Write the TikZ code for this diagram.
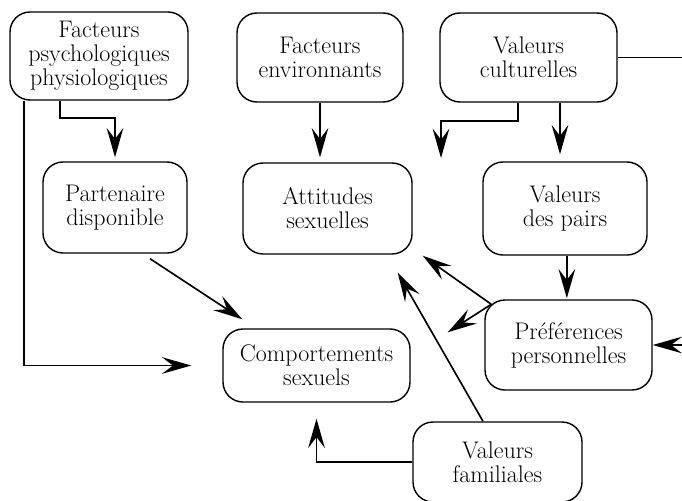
\documentclass[tikz,border=0pt]{standalone}
\usetikzlibrary{arrows.meta}
\tikzset{
    boite/.style={draw, rounded corners=0.6cm, align=center, line width=1.2pt, inner sep=0pt, font=\fontsize{20.5}{20.5}\selectfont},
    fleche/.style={-{Stealth[length=0.88cm,width=0.5cm,inset=0.33cm]}, line width=1.4pt},
}
\begin{document}
\begin{tikzpicture}[x=0.03cm, y=-0.03cm]
    \useasboundingbox (0,0) rectangle (682,500);
    \coordinate (Ppsy) at (99,56);
    \coordinate (Penv) at (320,57.5);
    \coordinate (Pcult) at (528.5,57.5);
    \coordinate (Ppart) at (115,207.5);
    \coordinate (Patt) at (327.5,208.5);
    \coordinate (Ppairs) at (565,208.5);
    \coordinate (Ppref) at (568.5,345);
    \coordinate (Pcomp) at (316.5,365.5);
    \coordinate (Pfam) at (497.5,462);
    \node[boite, minimum width=5.34cm, minimum height=2.64cm] (psy) at (Ppsy) {Facteurs\\psychologiques\\physiologiques};
    \node[boite, minimum width=4.98cm, minimum height=2.67cm] (env) at (Penv) {Facteurs\\environnants};
    \node[boite, minimum width=5.31cm, minimum height=2.67cm] (cult) at (Pcult) {Valeurs\\culturelles};
    \node[boite, minimum width=4.32cm, minimum height=2.73cm] (part) at (Ppart) {Partenaire\\disponible};
    \node[boite, minimum width=5.07cm, minimum height=2.73cm] (att) at (Patt) {Attitudes\\sexuelles};
    \node[boite, minimum width=4.92cm, minimum height=2.79cm] (pairs) at (Ppairs) {Valeurs\\des pairs};
    \node[boite, minimum width=5.01cm, minimum height=2.7cm] (pref) at (Ppref) {Préférences\\personnelles};
    \node[boite, minimum width=5.61cm, minimum height=2.19cm] (comp) at (Pcomp) {Comportements\\sexuels};
    \node[boite, minimum width=5.07cm, minimum height=2.4cm] (fam) at (Pfam) {Valeurs\\familiales};
    \coordinate (coude) at (60,118);
    \coordinate (coudeK) at (518,121);
    \coordinate (coudeM) at (560,0);
    \coordinate (libre) at (441,158);
    \coordinate (bordA) at (682,57.5);
    \coordinate (bordB) at (682,345);
    \coordinate (depart) at ([shift={(7,5)}]pref.north west);
    \draw[fleche, shorten >=0.93cm] ([xshift=0.45cm]psy.south west) |- (comp.west);
    \draw[fleche, shorten >=0.12cm] (psy.south -| coude) -- (coude) -| (part.north);
    \draw[fleche, shorten >=0.15cm] (env.south) -- (env.south |- att.north);
    \draw[fleche] (cult.south -| coudeK) -- (coudeK) -| (libre);
    \draw[fleche, shorten >=0.21cm] (cult.south -| coudeM) -- (coudeM |- pairs.north);
    \draw[line width=1.4pt] (cult.east) -- (bordA);
    \draw[fleche, shorten >=0.03cm] ([xshift=-0.05cm]pref.north |- pairs.south) -- ([xshift=-0.05cm]pref.north);
    \draw[fleche] (depart) -- ([shift={(10,1)}]att.south east);
    \draw[fleche] (depart) -- ([shift={(37,4)}]comp.north east);
    \draw[fleche] (bordB) -- (pref.east);
    \draw[fleche] ([xshift=-0.435cm]fam.north) -- ([shift={(-15,18)}]att.south east);
    \draw[fleche, shorten >=0.48cm] (fam.west) -| (comp.south);
    \draw[fleche] ([shift={(35,5)}]part.south) -- ([shift={(20,-9)}]comp.north west);
\end{tikzpicture}
\end{document}
